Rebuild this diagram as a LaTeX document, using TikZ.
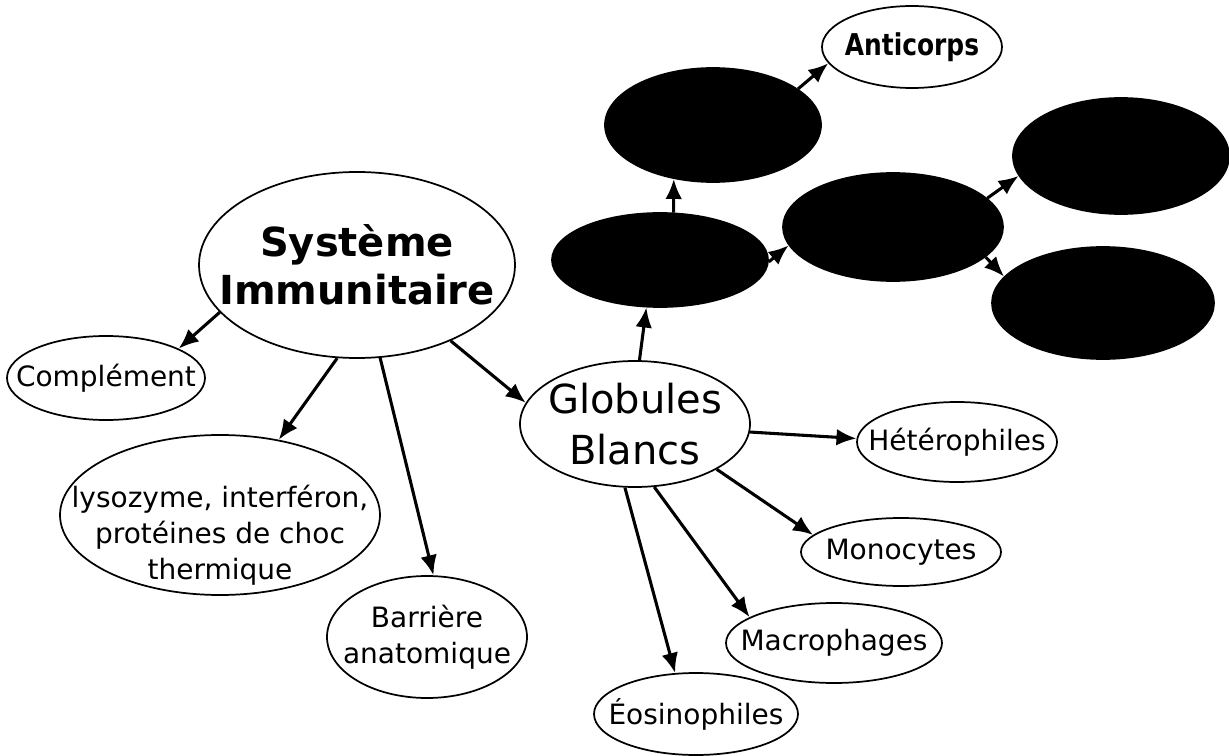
\documentclass[tikz,border=0pt]{standalone}
\usepackage{fontspec}
\setmainfont{DejaVu Sans}
\usetikzlibrary{shapes.geometric,arrows.meta}
\begin{document}
\begin{tikzpicture}[x=0.75pt,y=-0.75pt,
  ell/.style 2 args={ellipse, draw, line width=1.3pt, inner sep=0pt,
    minimum width=#1*1.5pt, minimum height=#2*1.5pt},
  dark/.style={fill=black},
  small/.style={align=center, inner sep=0pt, font=\fontsize{21}{27.2}\selectfont},
  big/.style={align=center, inner sep=0pt, font=\fontsize{30}{38}\selectfont},
  bigb/.style={align=center, inner sep=0pt, font=\fontsize{30}{36}\selectfont\bfseries},
  antib/.style={align=center, inner sep=0pt, font=\fontsize{22.5}{27}\selectfont\bfseries},
  conn/.style={line width=2.3pt, -{Latex[length=15pt,width=12.5pt]}}]
\useasboundingbox[fill=white] (0,0) rectangle (1229,756);

% main nodes (text set as centred labels so it does not resize the ellipse)
\node[ell={158}{93}, label={[bigb]center:Système\\Immunitaire}] (sys) at (357,265) {};
\node[ell={99}{42}, label={[small]center:Complément}] (comp) at (106,378) {};
\node[ell={160}{80}, label={[small,yshift=-15pt]center:lysozyme, interféron,\\protéines de choc\\thermique}] (lys) at (220,515) {};
\node[ell={100}{61}, label={[small]center:Barrière\\anatomique}] (bar) at (427,637) {};
\node[ell={115}{63}, label={[big]center:Globules\\Blancs}] (glob) at (635,424) {};
\node[ell={100}{40}, label={[small]center:Hétérophiles}] (het) at (957,442) {};
\node[ell={100}{34}, label={[small]center:Monocytes}] (mono) at (901,552) {};
\node[ell={108}{40}, label={[small]center:Macrophages}] (macro) at (834,643) {};
\node[ell={102}{41}, label={[small]center:Éosinophiles}] (eos) at (696,714) {};

% blacked-out nodes
\node[ell={108}{47}, dark] (b0) at (660,260) {};
\node[ell={108}{57}, dark] (b1) at (713,125) {};
\node[ell={110}{54}, dark] (b2) at (893,227) {};
\node[ell={108}{58}, dark] (b3) at (1121,156) {};
\node[ell={111}{56}, dark] (b4) at (1103,303) {};
\node[ell={90}{41}, label={[antib]center:\scalebox{0.83}[1]{Anticorps}}] (anti) at (912,47) {};

% connectors
\draw[conn] (sys.199) -- (comp.22);
\draw[conn] (sys.258) -- (lys.52);
\draw[conn] (sys.284) -- (bar.84);
\draw[conn] (sys.321) -- (glob.169);
\draw[conn] (glob.86) -- (b0.254);
\draw[conn] (b0.74) -- (b1.234);
\draw[conn] (b0.359) -- (b2.190);
\draw[conn] (b1.23) -- (anti.191);
\draw[conn] (b2.17) -- (b3.191);
\draw[conn] (b2.342) -- (b4.165);
\draw[conn] (glob.356) -- (het.178);
\draw[conn] (glob.331) -- (mono.169);
\draw[conn] (glob.287) -- (macro.163);
\draw[conn] (glob.261) -- (eos.117);
\end{tikzpicture}
\end{document}
